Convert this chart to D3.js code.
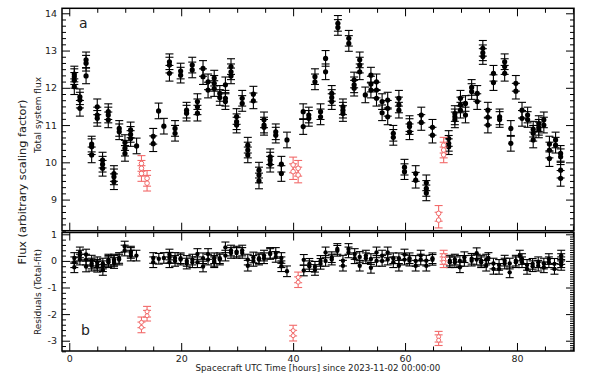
<!DOCTYPE html>
<html><head><meta charset="utf-8">
<script src="https://cdn.jsdelivr.net/npm/d3@7"></script>
<style>body{margin:0;background:#fff} text{font-family:"DejaVu Sans",sans-serif}</style>
</head><body><svg id="c" width="598" height="374"></svg>
<script>
// ---------- DATA ----------
// Panel a: total system flux, clusters of measurements (time in hours, flux values)
const fluxTimes = [0.9,1.9,3.0,4.0,5.0,5.95,6.97,7.98,8.93,9.95,10.96,12.03,15.0,15.96,16.9,17.9,18.9,19.9,20.96,21.97,22.9,23.9,24.8,25.9,26.9,27.9,28.9,29.9,30.9,31.9,32.9,33.9,34.8,35.9,36.9,37.9,38.9,41.8,42.8,43.9,44.9,45.8,46.9,48.0,48.9,49.95,50.9,51.9,52.9,53.9,54.9,55.9,56.9,57.9,58.9,59.9,60.8,61.9,62.9,63.8,64.9,67.8,68.9,69.9,70.8,71.9,72.9,73.9,74.8,75.8,76.9,77.8,78.9,79.8,80.9,81.9,82.9,83.9,84.8,85.8,86.9,87.8];
const fluxValues = [
 [12.37,12.3,12.2,12.03],[11.76,11.67,11.45],[12.75,12.66,12.32],[10.49,10.42,10.2],[11.49,11.27,11.18],
 [10.06,9.95,9.84],[11.36,11.27,11.14],[9.7,9.61,9.48],[10.91,10.82],[10.53,10.38,10.24],
 [10.87,10.75,10.64],[10.44],[10.7,10.5],[11.38],[10.97],[12.7,12.61,12.39],[10.91,10.78],[12.45,12.34],
 [11.4,11.32],[12.61,12.48],[11.63,11.49,11.32],[12.52,12.3],[12.16,11.94],[12.26,12.12,11.98],[11.85,11.74],
 [12.08,11.72,11.63],[12.57,12.43,12.32],[11.23,11.09,11.0],[11.72,11.58],[10.46,10.33,10.2],[11.83,11.65],
 [9.79,9.66,9.5],[11.14,11.0,10.94],[10.15,10.06,9.95],[10.82,10.73],[9.95,9.7],[10.6],
 [11.36,10.96],[11.27,11.18],[12.3,12.16],[11.36,11.22],[12.79,12.43],[11.85,11.74,11.63],[13.73,13.62],
 [11.49,11.4,11.31],[13.33,13.19],[12.21,12.08,11.99],[12.75,12.61,12.43],[11.81],[12.34,12.1,11.94],
 [12.16,11.94,11.72],[11.63,11.33],[11.67,11.45,11.22],[10.78,10.67],[11.72,11.54,11.4],[9.87,9.75],
 [11.04,10.96,10.82],[9.7,9.52],[11.27,11.07],[9.45,9.3,9.18],[10.94,10.73],
 [10.64,10.51,10.42],[11.31,11.22,11.14],[11.72,11.54,11.4],[11.58,11.27],[12.01,11.9],[11.85,11.63],
 [13.06,12.94,12.84],[11.4,11.21,11.0],[12.39,12.14],[11.22,11.15],[12.7,12.57,12.39],[10.91,10.51],
 [12.12,11.91],[11.4,11.18],[11.27,11.15],[10.89,10.78,10.6],[11.04,10.94,10.87],[11.14,11.0],
 [10.49,10.33,10.1],[10.6,10.46],[10.24,10.15,9.79,9.57]];
// excluded (red) measurements in panel a
const redTimes = [12.9,13.9,40.0,40.9,66.0,66.9];
const redFlux = [[9.97,9.84,9.7],[9.57,9.44],[9.93,9.75],[9.84,9.66],[8.63,8.45],[10.46,10.33,10.2]];
// Panel b: residuals
const resTimes = [0.9,1.9,3.0,4.0,5.0,6.0,7.0,8.0,8.9,9.9,11.0,12.0,15.0,16.0,16.9,17.9,18.9,19.9,21.0,22.0,22.9,23.9,24.8,25.9,26.9,27.9,28.9,29.9,30.9,31.9,32.9,33.9,34.8,35.9,36.9,37.9,38.9,41.9,42.9,43.9,44.9,45.8,46.9,47.9,48.9,49.9,51.0,51.9,53.0,53.9,54.9,55.9,56.9,57.9,58.9,59.9,60.8,61.9,62.8,63.8,64.9,68.0,68.9,69.8,70.6,71.9,72.8,73.6,74.5,74.9,75.8,76.8,77.8,78.7,79.8,80.5,80.9,81.8,82.8,83.8,84.8,85.7,86.7,87.9];
const resValues = [
 [0.11,-0.05,-0.24],[0.32,0.2,0.05],[0.24,0.05,-0.21],[0.01,-0.1,-0.18],[-0.05,-0.22,-0.15],[-0.34,-0.2,-0.1],
 [0.0,-0.05,0.05],[0.0,0.05,-0.08],[0.11,0.05],[0.54,0.39],[0.3,0.35,0.2],[0.2],[0.11,-0.05],[0.08],[0.11],
 [0.24,-0.05,0.12],[0.11,0.0],[0.1,0.05],[0.0,-0.1],[0.05,-0.05],[0.26,-0.05],[-0.21,0.1],[0.26,0.05],
 [0.1,0.0,-0.05],[0.1,0.05],[0.51,0.2],[0.39,0.3],[0.3,0.35],[0.3,0.39],[-0.18,0.05],[0.13,0.0],[0.1,0.05],
 [0.2,0.1],[0.26,0.3],[0.3,0.15],[-0.05,-0.2,0.11],[-0.39],
 [0.04,-0.36],[-0.11,-0.2],[-0.34,-0.22],[-0.11,0.0],[0.32,0.0],[0.14,0.05],[0.45,0.38],[0.01,-0.18],
 [0.45,0.32],[0.26,0.1],[-0.18,0.15],[0.2,0.1],[0.07,-0.26],[0.32,0.0],[0.2,0.0],[0.32,0.05],[-0.05,0.1],
 [-0.18,0.1],[0.24,0.05],[0.01,0.1],[-0.18,0.0],[0.2,0.05],[0.01,-0.18],[0.04,0.1],
 [0.01,-0.05],[-0.05,0.05],[-0.24,0.0],[0.14,0.0],[0.01,0.08],[0.29,0.05],[0.01,-0.05],[-0.18,0.05],[0.11],
 [-0.3,-0.1],[-0.3,-0.15],[0.01,-0.1],[-0.43,-0.1],[0.01,-0.05],[0.2],[0.07,-0.05],[-0.3,-0.15],[-0.11,-0.2],
 [-0.05,-0.18],[-0.24,-0.1],[0.07,-0.05],[-0.11,-0.3],[0.2,0.07,-0.05,-0.15]];
const redResTimes = [12.9,13.9,40.0,40.9,66.0,66.9];
const redRes = [[-2.31,-2.5],[-1.91,-2.06],[-2.62,-2.81],[-0.62,-0.8],[-2.85,-2.98],[0.2,0.07,-0.05]];
const fluxErr = 0.21, resErr = 0.2;
const xTicks = [0,20,40,60,80];
const yTopTicks = [9,10,11,12,13,14];
const yBotTicks = [-3,-2,-1,0,1];

// ---------- LAYOUT ----------
const svg = d3.select('#c');
const L = 62, R = 574;
const tY0 = 8.3, tY1 = 230.7, bY0 = 232.5, bY1 = 351;
const x = d3.scaleLinear().domain([-1.3, 90.19]).range([L, R]);
const yT = d3.scaleLinear().domain([8.165, 14.134]).range([tY1, tY0]);
const yB = d3.scaleLinear().domain([-3.387, 1.068]).range([bY1, bY0]);

function flat(times, vals){ const out=[]; times.forEach((t,i)=>vals[i].forEach(v=>out.push({t,v}))); return out; }

function errbars(g, data, y, err, color, r, hollow){
  const gg = g.append('g');
  data.forEach(d=>{
    const cx = x(d.t);
    gg.append('line').attr('x1',cx).attr('x2',cx).attr('y1',y(d.v-err)).attr('y2',y(d.v+err)).attr('stroke',color).attr('stroke-width',1.1);
    [d.v-err, d.v+err].forEach(e=>gg.append('line').attr('x1',cx-4).attr('x2',cx+4).attr('y1',y(e)).attr('y2',y(e)).attr('stroke',color).attr('stroke-width',1.1));
  });
  data.forEach(d=>{
    gg.append('circle').attr('cx',x(d.t)).attr('cy',y(d.v)).attr('r',r)
      .attr('fill', hollow ? '#fff' : color).attr('stroke',color).attr('stroke-width', hollow?1:0);
  });
}

function ax(gen, scale, vals, size, tr, labels, pad){
  const a = gen(scale).tickValues(vals).tickSize(size).tickPadding(pad||3);
  a.tickFormat(labels ? (d=>String(d)) : '');
  const g = svg.append('g').attr('transform', tr).call(a);
  g.select('.domain').remove();
  g.selectAll('line').attr('stroke','#000').attr('stroke-width',1);
  g.selectAll('text').attr('font-size', 9.5).attr('fill','#222').attr('font-family','DejaVu Sans');
  return g;
}
const minorX = d3.range(0, 91, 5).filter(v=>v%20!==0);
const minorYT = d3.range(8.167, 14.13, 1/6).filter(v=>Math.abs(v-Math.round(v))>0.01);
const minorYBL = d3.range(-3.4, 1.07, 0.2).filter(v=>Math.abs(v-Math.round(v))>0.01);
const minorYBR = d3.range(-3.333, 1.07, 1/12).filter(v=>Math.abs(v-Math.round(v))>0.01);

// panel frames & ticks
[[tY0,tY1,yT,yTopTicks,minorYT,minorYT],[bY0,bY1,yB,yBotTicks,minorYBL,minorYBR]].forEach(([y0,y1,ys,maj,minL,minR],pi)=>{
  ax(d3.axisTop, x, xTicks, -8, `translate(0,${y0})`, false);
  ax(d3.axisTop, x, minorX, -4.5, `translate(0,${y0})`, false);
  ax(d3.axisBottom, x, xTicks, -8, `translate(0,${y1})`, pi===1, 4.5);
  ax(d3.axisBottom, x, minorX, -4.5, `translate(0,${y1})`, false);
  ax(d3.axisLeft, ys, maj, -8, `translate(${L},0)`, true, 5);
  ax(d3.axisLeft, ys, minL, -4, `translate(${L},0)`, false);
  ax(d3.axisRight, ys, maj, -8, `translate(${R},0)`, false);
  ax(d3.axisRight, ys, minR, -4, `translate(${R},0)`, false);
  svg.append('rect').attr('x',L).attr('y',y0).attr('width',R-L).attr('height',y1-y0)
    .attr('fill','none').attr('stroke','#000').attr('stroke-width',1.5);
});

// data
errbars(svg, flat(fluxTimes, fluxValues), yT, fluxErr, '#000', 2.6, false);
errbars(svg, flat(redTimes, redFlux), yT, fluxErr, '#f26a6a', 2.3, true);
errbars(svg, flat(resTimes, resValues), yB, resErr, '#000', 2.2, false);
errbars(svg, flat(redResTimes, redRes), yB, resErr, '#f26a6a', 2.0, true);

// texts
svg.append('text').attr('x',79).attr('y',28).attr('font-size',14).attr('fill','#222').text('a');
svg.append('text').attr('x',81).attr('y',335).attr('font-size',14).attr('fill','#222').text('b');
svg.append('text').attr('transform','translate(41,115) rotate(-90)').attr('text-anchor','middle').attr('font-size',9).attr('fill','#222').text('Total system flux');
svg.append('text').attr('transform','translate(41,292) rotate(-90)').attr('text-anchor','middle').attr('font-size',9).attr('fill','#222').text('Residuals (Total-fit)');
svg.append('text').attr('transform','translate(26,182) rotate(-90)').attr('text-anchor','middle').attr('font-size',11.3).attr('fill','#222').text('Flux (arbitrary scaling factor)');
svg.append('text').attr('x',318).attr('y',371).attr('text-anchor','middle').attr('font-size',8.7).attr('fill','#222').text('Spacecraft UTC Time [hours] since 2023-11-02 00:00:00');
</script></body></html>
